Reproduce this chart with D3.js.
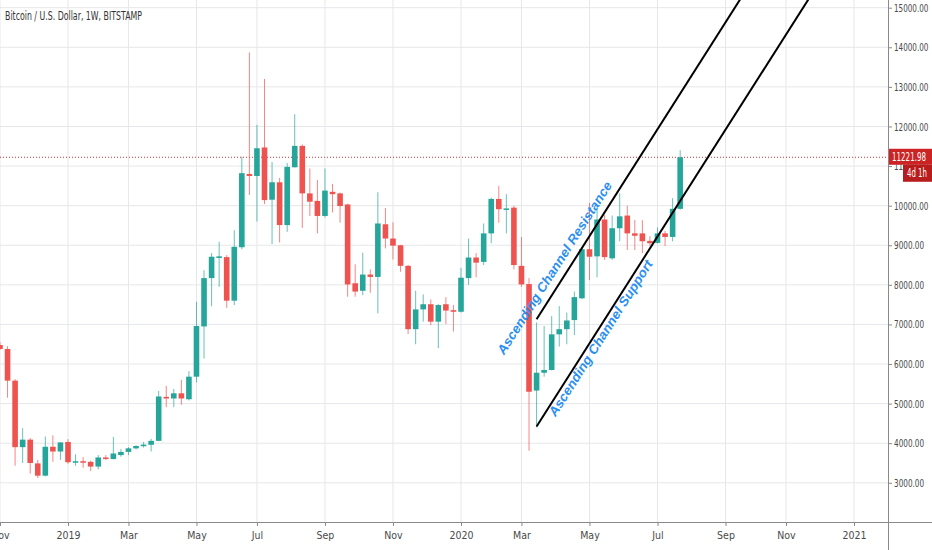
<!DOCTYPE html>
<html>
<head>
<meta charset="utf-8">
<script src="https://cdn.jsdelivr.net/npm/d3@7"></script>
<style>
  body { margin: 0; background: #fff; }
  text { font-family: "Liberation Sans Narrow", "DejaVu Sans Condensed", "Roboto", sans-serif; }
</style>
</head>
<body>
<div id="chart"></div>
<script>
// Weekly candles, BTC/USD Bitstamp
var weeks = [
  "2018-11-05","2018-11-12","2018-11-19","2018-11-26","2018-12-03","2018-12-10","2018-12-17","2018-12-24","2018-12-31",
  "2019-01-07","2019-01-14","2019-01-21","2019-01-28","2019-02-04","2019-02-11","2019-02-18","2019-02-25",
  "2019-03-04","2019-03-11","2019-03-18","2019-03-25","2019-04-01","2019-04-08","2019-04-15","2019-04-22","2019-04-29",
  "2019-05-06","2019-05-13","2019-05-20","2019-05-27","2019-06-03","2019-06-10","2019-06-17","2019-06-24",
  "2019-07-01","2019-07-08","2019-07-15","2019-07-22","2019-07-29","2019-08-05","2019-08-12","2019-08-19","2019-08-26",
  "2019-09-02","2019-09-09","2019-09-16","2019-09-23","2019-09-30","2019-10-07","2019-10-14","2019-10-21","2019-10-28",
  "2019-11-04","2019-11-11","2019-11-18","2019-11-25","2019-12-02","2019-12-09","2019-12-16","2019-12-23","2019-12-30",
  "2020-01-06","2020-01-13","2020-01-20","2020-01-27","2020-02-03","2020-02-10","2020-02-17","2020-02-24",
  "2020-03-02","2020-03-09","2020-03-16","2020-03-23","2020-03-30","2020-04-06","2020-04-13","2020-04-20","2020-04-27",
  "2020-05-04","2020-05-11","2020-05-18","2020-05-25","2020-06-01","2020-06-08","2020-06-15","2020-06-22","2020-06-29",
  "2020-07-06","2020-07-13","2020-07-20","2020-07-27"
];
var opens = [
  6480,6380,5580,3900,4090,3490,3180,3910,3790,
  4030,3520,3545,3530,3410,3640,3600,3700,
  3780,3870,3925,3960,4060,5170,5130,5260,5110,
  5680,6950,8170,8680,8700,7600,8950,10800,
  10750,11470,10150,10590,9510,10970,11510,10310,10120,
  9740,10350,10310,10030,8040,7850,8260,8200,9530,
  9170,9000,8480,6880,7380,7510,7070,7510,7360,
  7320,8170,8690,8580,9300,10170,9910,9950,
  8480,8020,5330,5780,5850,6750,6880,7110,7660,
  8900,8720,9650,8670,9430,9750,9300,9300,9110,
  9060,9300,9210,9920
];
var highs = [
  6560,6450,5620,4380,4130,3580,4170,4200,4030,
  4100,3720,3650,3560,3700,3700,4160,3850,
  3900,3950,4030,4110,5320,5450,5370,5600,5820,
  7570,8370,8800,9090,8750,9380,11240,13870,
  12040,13200,11100,10700,11080,12310,11550,10940,10650,
  10940,10550,10330,10050,8520,8810,8390,10340,9940,
  9580,9010,8500,7850,7760,7630,7520,7690,7490,
  8430,9170,8800,9550,10200,10500,10290,10000,
  9210,8170,7050,6960,7210,7460,7300,7830,8950,
  10070,9900,9760,9750,10310,10000,9640,9630,9230,
  9450,9360,10190,11400
];
var lows = [
  6360,5150,3430,3500,3230,3120,3160,3530,3580,
  3480,3430,3380,3300,3340,3580,3590,3660,
  3700,3840,3890,3790,4050,4910,4910,4970,5080,
  5540,6140,7460,7950,7420,7490,8900,10270,
  9600,10040,9030,9070,9340,10960,9440,9740,9300,
  9700,9830,9570,7700,7700,7740,7800,7280,8920,
  8640,8330,6760,6500,7070,6980,6400,7010,6820,
  7300,8000,8190,8500,9050,9570,9300,8390,
  7950,3810,4400,5680,5840,6440,6500,6730,7640,
  8120,8190,8630,8630,9100,8880,8880,8800,8980,
  9040,8980,9100,9900
];
var closes = [
  6380,5580,3900,4090,3500,3180,3910,3790,4020,
  3520,3545,3530,3410,3640,3600,3740,3780,
  3870,3930,3965,4060,5180,5130,5260,5130,5680,
  6960,8170,8710,8720,7600,8960,10820,10750,
  11450,10140,10590,9510,10980,11510,10310,10100,9740,
  10380,10290,9990,8010,7830,8260,8200,9550,9170,
  8990,8480,6880,7380,7510,7070,7490,7350,7320,
  8180,8690,8560,9300,10170,9910,9930,8500,
  8010,5300,5780,5850,6750,6880,7100,7690,8900,
  8710,9650,8700,9430,9730,9300,9240,9100,9050,
  9300,9210,9920,11221.98
];

// Axis ticks
var tickWeeks = ["2018-11-05","2019-01-07","2019-03-04","2019-05-06","2019-07-01","2019-09-02","2019-11-04",
  "2020-01-06","2020-03-02","2020-05-04","2020-07-06","2020-09-07","2020-11-02","2021-01-04"];
var tickNames = ["Nov","2019","Mar","May","Jul","Sep","Nov","2020","Mar","May","Jul","Sep","Nov","2021"];
var priceTicks = [3000,4000,5000,6000,7000,8000,9000,10000,11000,12000,13000,14000,15000];

// Channel lines [week, price]
var resistanceLine = [["2020-03-16", 7130], ["2020-09-21", 15230]];
var supportLine = [["2020-03-16", 4420], ["2020-11-23", 15220]];

var lastPrice = 11221.98;
var countdown = "4d 1h";

// SVG area
var svgWidth = 932;
var svgHeight = 550;
var plotRight = 888;
var plotBottom = 522;

var upColor = "#26a69a";
var downColor = "#ef5350";
var gridColor = "#e6e7ea";
var labelColor = "#4a4a4a";
var charWidth = 4.3; // narrow TradingView-like digits

var parseWeek = d3.utcParse("%Y-%m-%d");

var candles = weeks.map(function(w, i) {
  return { date: parseWeek(w), o: opens[i], h: highs[i], l: lows[i], c: closes[i] };
});

var svg = d3.select("#chart")
  .append("svg")
  .attr("width", svgWidth)
  .attr("height", svgHeight);

svg.append("rect").attr("width", svgWidth).attr("height", svgHeight).attr("fill", "#fff");

// scales: one weekly bar every ~7.56px
var xScale = d3.scaleUtc()
  .domain([parseWeek("2019-01-07"), parseWeek("2021-01-04")])
  .range([68, 854]);

var yScale = d3.scaleLinear()
  .domain([3000, 15000])
  .range([482.8, 7.7]);

var barWidth = 5.6;

svg.append("defs").append("clipPath")
  .attr("id", "plot-clip")
  .append("rect")
  .attr("width", plotRight)
  .attr("height", plotBottom);

// grid
var grid = svg.append("g").attr("clip-path", "url(#plot-clip)");
grid.selectAll(".hgrid")
  .data(priceTicks)
  .enter()
  .append("line")
  .attr("x1", 0)
  .attr("x2", plotRight)
  .attr("y1", d => yScale(d))
  .attr("y2", d => yScale(d))
  .attr("stroke", gridColor);

grid.selectAll(".vgrid")
  .data(tickWeeks)
  .enter()
  .append("line")
  .attr("x1", d => xScale(parseWeek(d)))
  .attr("x2", d => xScale(parseWeek(d)))
  .attr("y1", 0)
  .attr("y2", plotBottom)
  .attr("stroke", gridColor);

var chartGroup = svg.append("g").attr("clip-path", "url(#plot-clip)");

// last price dotted line
chartGroup.append("line")
  .attr("x1", 0)
  .attr("x2", plotRight)
  .attr("y1", yScale(lastPrice))
  .attr("y2", yScale(lastPrice))
  .attr("stroke", "#d32f2f")
  .attr("stroke-width", 1)
  .attr("stroke-dasharray", "1,2");

// wicks
chartGroup.selectAll(".wick")
  .data(candles)
  .enter()
  .append("line")
  .attr("class", "wick")
  .attr("x1", d => xScale(d.date))
  .attr("x2", d => xScale(d.date))
  .attr("y1", d => yScale(d.h))
  .attr("y2", d => yScale(d.l))
  .attr("stroke", d => d.c >= d.o ? upColor : downColor)
  .attr("stroke-opacity", 0.7)
  .attr("stroke-width", 1);

// bodies
chartGroup.selectAll(".body")
  .data(candles)
  .enter()
  .append("rect")
  .attr("class", "body")
  .attr("x", d => xScale(d.date) - barWidth / 2)
  .attr("y", d => yScale(Math.max(d.o, d.c)))
  .attr("width", barWidth)
  .attr("height", d => Math.max(1.5, Math.abs(yScale(d.o) - yScale(d.c))))
  .attr("fill", d => d.c >= d.o ? upColor : downColor);

// channel lines
var channelLine = d3.line()
  .x(d => xScale(parseWeek(d[0])))
  .y(d => yScale(d[1]));

chartGroup.append("path")
  .attr("d", channelLine(resistanceLine))
  .attr("fill", "none")
  .attr("stroke", "#000")
  .attr("stroke-width", 2);

chartGroup.append("path")
  .attr("d", channelLine(supportLine))
  .attr("fill", "none")
  .attr("stroke", "#000")
  .attr("stroke-width", 2);

// channel labels placed along each line
function lineLabel(pts, text, along, perp, len) {
  var x0 = xScale(parseWeek(pts[0][0])), y0 = yScale(pts[0][1]);
  var x1 = xScale(parseWeek(pts[1][0])), y1 = yScale(pts[1][1]);
  var dist = Math.hypot(x1 - x0, y1 - y0);
  var ux = (x1 - x0) / dist, uy = (y1 - y0) / dist;
  // normal pointing up-left of the direction of travel
  var nx = uy, ny = -ux;
  var px = x0 + ux * along + nx * perp;
  var py = y0 + uy * along + ny * perp;
  var angle = Math.atan2(y1 - y0, x1 - x0) * 180 / Math.PI;
  chartGroup.append("text")
    .attr("transform", `translate(${px},${py}) rotate(${angle})`)
    .attr("fill", "#2b8ff0")
    .attr("textLength", len)
    .attr("lengthAdjust", "spacingAndGlyphs")
    .style("font-family", "'Liberation Sans', Arial, sans-serif")
    .style("font-weight", "bold")
    .style("font-style", "italic")
    .style("font-size", "13px")
    .text(text);
}
lineLabel(resistanceLine, "Ascending Channel Resistance", -48, 8, 202);
lineLabel(supportLine, "Ascending Channel Support", 18, -11, 182);

// title
svg.append("text")
  .attr("x", 5)
  .attr("y", 20)
  .attr("fill", "#333")
  .attr("textLength", 137)
  .attr("lengthAdjust", "spacingAndGlyphs")
  .style("font-size", "12px")
  .text("Bitcoin / U.S. Dollar, 1W, BITSTAMP");

// bottom axis
var bottomAxis = d3.axisBottom(xScale)
  .tickValues(tickWeeks.map(parseWeek))
  .tickFormat((d, i) => tickNames[i])
  .tickSize(4)
  .tickSizeOuter(0);

var xAxisGroup = svg.append("g")
  .attr("transform", `translate(0, ${plotBottom})`)
  .call(bottomAxis);
xAxisGroup.select(".domain").remove();
xAxisGroup.selectAll("line").attr("stroke", "#888");
xAxisGroup.selectAll("text")
  .attr("y", 10)
  .attr("fill", labelColor)
  .style("font-family", null)
  .style("font-size", "10.5px");

svg.append("line")
  .attr("x1", 0).attr("x2", svgWidth)
  .attr("y1", plotBottom + 0.5).attr("y2", plotBottom + 0.5)
  .attr("stroke", "#8a8a8a");

// right axis
var rightAxis = d3.axisRight(yScale)
  .tickValues(priceTicks)
  .tickFormat(d3.format(".2f"))
  .tickSize(4)
  .tickSizeOuter(0);

var yAxisGroup = svg.append("g")
  .attr("transform", `translate(${plotRight}, 0)`)
  .call(rightAxis);
yAxisGroup.select(".domain").remove();
yAxisGroup.selectAll("line").attr("stroke", "#888");
yAxisGroup.selectAll("text")
  .attr("x", 6)
  .attr("fill", labelColor)
  .attr("textLength", function() { return this.textContent.length * charWidth; })
  .attr("lengthAdjust", "spacingAndGlyphs")
  .style("font-family", null)
  .style("font-size", "11px");

svg.append("line")
  .attr("x1", plotRight + 0.5).attr("x2", plotRight + 0.5)
  .attr("y1", 0).attr("y2", svgHeight)
  .attr("stroke", "#8a8a8a");

// last price tag + countdown
var tagY = yScale(lastPrice);
svg.append("rect")
  .attr("x", plotRight + 1)
  .attr("y", tagY - 8.5)
  .attr("width", svgWidth - plotRight - 1)
  .attr("height", 16)
  .attr("fill", "#cc2424");
svg.append("text")
  .attr("x", plotRight + 4)
  .attr("y", tagY + 4)
  .attr("fill", "#fff")
  .attr("textLength", 34)
  .attr("lengthAdjust", "spacingAndGlyphs")
  .style("font-size", "11.5px")
  .text(d3.format(".2f")(lastPrice));

svg.append("rect")
  .attr("x", 903)
  .attr("y", tagY + 7.5)
  .attr("width", svgWidth - 903)
  .attr("height", 17)
  .attr("fill", "#b81d1d");
svg.append("text")
  .attr("x", 907)
  .attr("y", tagY + 20)
  .attr("fill", "#fff")
  .attr("textLength", 20)
  .attr("lengthAdjust", "spacingAndGlyphs")
  .style("font-size", "11.5px")
  .text(countdown);
</script>
</body>
</html>
